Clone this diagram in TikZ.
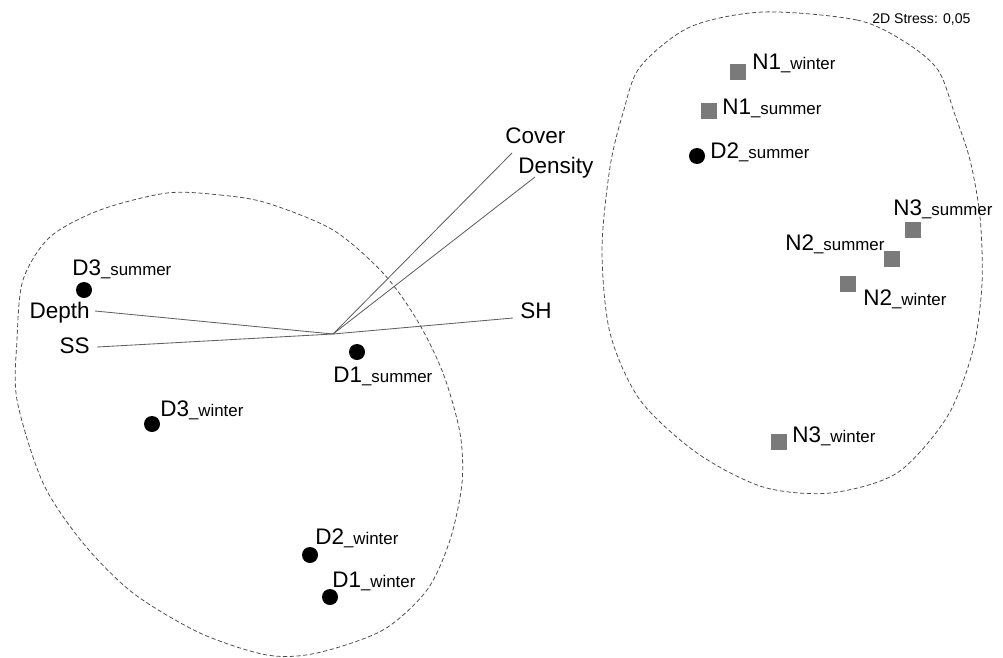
\documentclass[tikz,border=0pt]{standalone}
\usepackage{fontspec}
\setmainfont{Liberation Sans}

\newcommand{\bigf}{\fontsize{16}{18}\selectfont}
\newcommand{\smf}{\fontsize{12}{14}\selectfont}
\newcommand{\site}[2]{{\bigf #1}{\smf\_#2}}

\tikzset{
  dot/.style={circle, fill=black, inner sep=0, minimum size=0.4cm},
  sq/.style={rectangle, fill=black!52, inner sep=0, minimum size=0.42cm},
  lab/.style={anchor=base west, inner sep=0},
  labr/.style={anchor=base east, inner sep=0},
  vec/.style={draw=black!62, line width=0.6pt},
  hull/.style={draw=black!70, dash pattern=on 3pt off 1.8pt, line width=0.55pt}
}

\begin{document}
\begin{tikzpicture}[x=0.025cm, y=-0.025cm, font=\bigf]
\useasboundingbox (0,0) rectangle (1003,657);

% groups
\draw[hull] plot[smooth cycle] coordinates {(167,193) (220,195) (267,203) (333,230) (383,273) (417,320) (443,373) (460,433) (462,483) (450,540) (427,590) (383,630) (317,653) (267,655) (200,633) (133,593) (83,543) (43,483) (17,400) (17,340) (23,280) (50,237) (100,210)}; %D
\draw[hull] plot[smooth cycle] coordinates {(763,12) (857,20) (905,42) (938,70) (955,115) (970,160) (980,217) (982,283) (973,350) (947,417) (897,473) (830,493) (763,487) (697,453) (640,400) (610,333) (602,250) (610,167) (623,113) (640,67) (690,27)}; %N

% vectors
\coordinate (origin) at (333,334);
\coordinate (cov) at (512,153);
\coordinate (den) at (535,177);
\coordinate (sh) at (513,318);
\coordinate (dep) at (95,311);
\coordinate (ss) at (97,347);
\draw[vec] (origin) -- (cov); %Cover
\draw[vec] (origin) -- (den); %Density
\draw[vec] (origin) -- (sh); %SH
\draw[vec] (origin) -- (dep); %Depth
\draw[vec] (origin) -- (ss); %SS
\node[lab] (lcov) at (505,143) {Cover};
\node[lab] (lden) at (518,173) {Density};
\node[lab] (lsh) at (520,318) {SH};
\node[labr] (ldep) at (90,318) {Depth};
\node[labr] (lss) at (90,353) {SS};

% D sites
\node[dot] (d3s) at (84,290) {};
\node[lab] (ld3s) at (72,275) {\site{D3}{summer}};
\node[dot] (d1s) at (357,352) {};
\node[lab] (ld1s) at (333,382) {\site{D1}{summer}};
\node[dot] (d3w) at (152,424) {};
\node[lab] (ld3w) at (160,416) {\site{D3}{winter}};
\node[dot] (d2w) at (310,555) {};
\node[lab] (ld2w) at (315,544) {\site{D2}{winter}};
\node[dot] (d1w) at (330,597) {};
\node[lab] (ld1w) at (332,587) {\site{D1}{winter}};
\node[dot] (d2s) at (697,156) {};
\node[lab] (ld2s) at (710,158) {\site{D2}{summer}};

% N sites
\node[sq] (n1w) at (738,72) {};
\node[lab] (ln1w) at (752,70) {\site{N1}{winter}};
\node[sq] (n1s) at (709,111) {};
\node[lab] (ln1s) at (722,114) {\site{N1}{summer}};
\node[sq] (n3s) at (913,230) {};
\node[lab] (ln3s) at (893,215) {\site{N3}{summer}};
\node[sq] (n2s) at (892,259) {};
\node[lab] (ln2s) at (785,250) {\site{N2}{summer}};
\node[sq] (n2w) at (848,284) {};
\node[lab] (ln2w) at (863,305) {\site{N2}{winter}};
\node[sq] (n3w) at (779,442) {};
\node[lab] (ln3w) at (792,442) {\site{N3}{winter}};

\node[lab, font=\fontsize{10}{12}\selectfont] (stress) at (872,24) {2D Stress: 0,05};

\end{tikzpicture}
\end{document}
